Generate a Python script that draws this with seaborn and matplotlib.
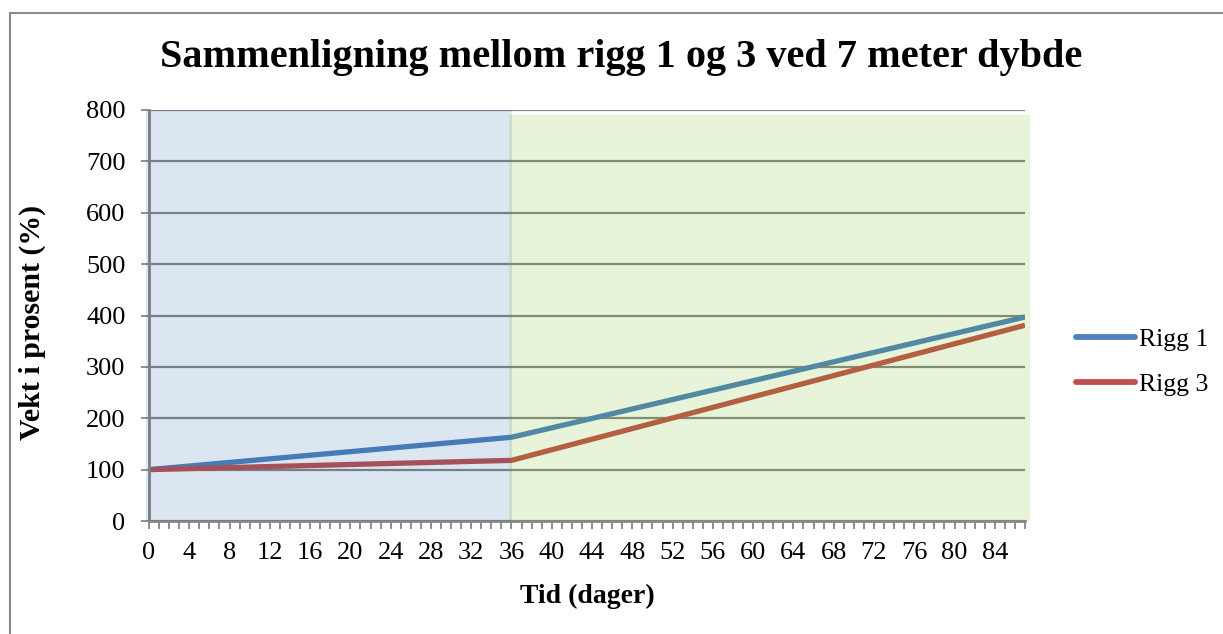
import matplotlib
matplotlib.use("Agg")
import matplotlib.pyplot as plt
import matplotlib.patches as mpatches
from matplotlib.lines import Line2D
import numpy as np
import pandas as pd
import seaborn as sns

# Measured weight (percent of start weight) at the break points of each series
days = [0, 36, 87]
rigg1 = [100, 163, 397]
rigg3 = [100, 118, 381]
series_names = ["Rigg 1", "Rigg 3"]
y_ticks = [0, 100, 200, 300, 400, 500, 600, 700, 800]
x_tick_labels = list(range(0, 85, 4))
phase_split = 36
phase_end = 87

title = "Sammenligning mellom rigg 1 og 3 ved 7 meter dybde"
x_label = "Tid (dager)"
y_label = "Vekt i prosent (%)"

colors = ["#4F81BD", "#C0504D"]
grid_color = "#868686"

sns.set_theme(style="white")
plt.rcParams["font.family"] = ["Liberation Serif", "DejaVu Serif"]
plt.rcParams["text.color"] = "black"
plt.rcParams["axes.labelcolor"] = "black"

df = pd.DataFrame({
    "dag": days * 2,
    "vekt": rigg1 + rigg3,
    "rigg": [series_names[0]] * len(days) + [series_names[1]] * len(days),
})

fig = plt.figure(figsize=(12.23, 6.34), dpi=100)
ax = fig.add_axes([149 / 1223, 1 - 521 / 634, (1025 - 149) / 1223, (521 - 110) / 634])

sns.lineplot(data=df, x="dag", y="vekt", hue="rigg", palette=colors,
             linewidth=3.8, ax=ax, legend=False, zorder=2)
for ln in ax.get_lines():
    ln.set_solid_capstyle("butt")

ax.set_xlim(0, phase_end)
ax.set_ylim(0, 800)

# horizontal gridlines
ax.set_yticks(y_ticks)
ax.yaxis.grid(True, color=grid_color, linewidth=1.6, zorder=1)
ax.set_axisbelow(True)

# x ticks: one per day, labels every fourth day
ax.set_xticks(np.arange(0, phase_end + 1))
ax.set_xticklabels([str(d) if d in x_tick_labels else "" for d in range(0, phase_end + 1)])

ax.tick_params(axis="both", which="both", direction="out", length=6, width=1.3,
               color=grid_color, labelsize=19, labelcolor="black",
               bottom=True, left=True)
ax.tick_params(axis="x", pad=9)
ax.tick_params(axis="y", pad=11)

for side in ["top", "right"]:
    ax.spines[side].set_visible(False)
for side in ["left", "bottom"]:
    ax.spines[side].set_color(grid_color)
    ax.spines[side].set_linewidth(2)

# translucent phase shading laid over the lines
ax.axvspan(-0.3, phase_split + 0.1, ymin=0, ymax=1, color="#165AA2", alpha=0.15,
           linewidth=0, zorder=3, clip_on=False)
ax.axvspan(phase_split - 0.2, phase_end + 0.5, ymin=0, ymax=790 / 800, color="#66B608",
           alpha=0.15, linewidth=0, zorder=3, clip_on=False)

ax.set_xlabel(x_label, fontsize=20, fontweight="bold")
ax.set_ylabel(y_label, fontsize=21.5, fontweight="bold")
ax.xaxis.set_label_coords((587 - 149) / 876, (521 - 596) / 411)
ax.xaxis.label.set_va("center")
ax.yaxis.set_label_coords((32 - 149) / 876, (521 - 322) / 411)
ax.yaxis.label.set_va("center")

fig.suptitle(title, x=621 / 1223, y=1 - 58 / 634, va="center",
             fontsize=29, fontweight="bold")

handles = [Line2D([0], [0], color=c, linewidth=4.2, solid_capstyle="round") for c in colors]
fig.legend(handles, series_names, loc="center left",
           bbox_to_anchor=(1076 / 1223, 1 - 362 / 634), frameon=False,
           fontsize=18.5, handlelength=2.3, handletextpad=0.15, labelspacing=0.85,
           borderpad=0, borderaxespad=0)

# chart area frame
fig.add_artist(mpatches.Rectangle((10 / 1223, -0.05), 1.2, 1 - 13 / 634 + 0.05,
                                  transform=fig.transFigure, fill=False,
                                  edgecolor="#8C8C8C", linewidth=1.5))

fig.savefig("out.png", dpi=100)
